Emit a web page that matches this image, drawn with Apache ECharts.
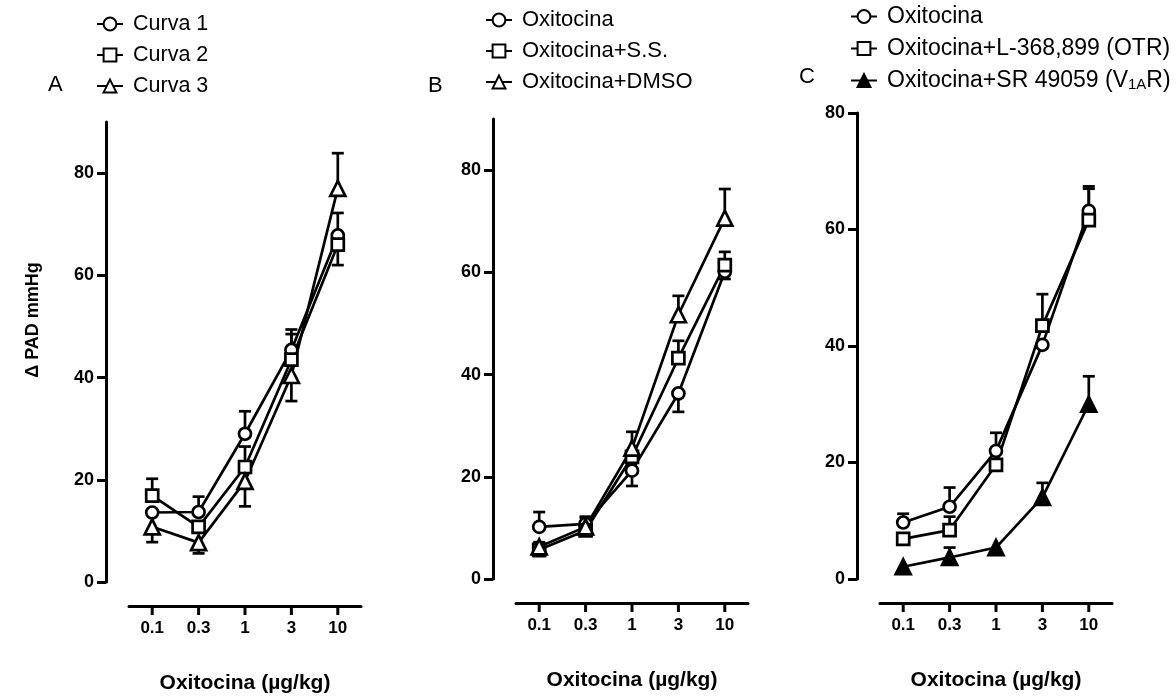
<!DOCTYPE html>
<html>
<head>
<meta charset="utf-8">
<script src="https://cdn.jsdelivr.net/npm/echarts@6/dist/echarts.min.js"></script>
<style>
  html, body { margin: 0; padding: 0; background: #ffffff; }
  #chart { width: 1176px; height: 696px; }
</style>
</head>
<body>
<div id="chart"></div>
<script>
// Doses (µg/kg) shown on every x axis, evenly spaced by position
const doses = ['0.1', '0.3', '1', '3', '10'];
const dosePos = [0, 1, 2, 3, 4];
const yTicks90 = [0, 20, 40, 60, 80];

// Panel A — three repeated oxytocin dose-response curves (mean, SEM above / below)
const curva1 = [13.6, 13.7, 29.0, 45.4, 67.8];
const curva1Up = [0, 3.0, 4.4, 4.0, 4.4];
const curva1Dn = [0, 0, 0, 0, 0];
const curva2 = [16.9, 10.8, 22.5, 43.5, 66.0];
const curva2Up = [3.3, 0, 4.0, 5.0, 0];
const curva2Dn = [0, 0, 0, 0, 4.0];
const curva3 = [10.8, 7.7, 19.7, 40.4, 77.0];
const curva3Up = [0, 0, 0, 0, 6.9];
const curva3Dn = [3.0, 2.1, 4.9, 5.0, 0];

// Panel B — oxytocin vs vehicles
const oxiB = [10.2, 10.8, 21.2, 36.3, 60.1];
const oxiBUp = [2.9, 1.4, 0, 0, 0];
const oxiBDn = [0, 0, 3.0, 3.6, 1.4];
const ssB = [5.7, 9.5, 23.9, 43.2, 61.4];
const ssBUp = [1.5, 0, 0, 3.4, 2.6];
const ssBDn = [1.2, 0, 0, 0, 0];
const dmsoB = [6.3, 10.2, 25.6, 51.7, 70.6];
const dmsoBUp = [0, 1.8, 3.2, 3.7, 5.7];
const dmsoBDn = [0, 0, 0, 0, 0];

// Panel C — oxytocin with receptor antagonists
const oxiC = [9.7, 12.4, 22.0, 40.2, 63.2];
const oxiCUp = [1.5, 3.3, 3.1, 0, 4.2];
const oxiCDn = [0, 0, 0, 0, 0];
const otrC = [6.9, 8.4, 19.6, 43.5, 61.6];
const otrCUp = [0, 2.3, 0, 5.4, 5.4];
const otrCDn = [0, 0, 0, 0, 0];
const v1aC = [2.1, 3.7, 5.4, 14.0, 30.0];
const v1aCUp = [0, 1.7, 0, 2.5, 4.8];
const v1aCDn = [0, 0, 0, 0, 0];

const namesA = ['Curva 1', 'Curva 2', 'Curva 3'];
const namesB = ['Oxitocina', 'Oxitocina+S.S.', 'Oxitocina+DMSO'];
const namesC = ['Oxitocina', 'Oxitocina+L-368,899 (OTR)', 'Oxitocina+SR 49059 (V1AR)'];

const FONT = '"Liberation Sans", Arial, sans-serif';
const INK = '#000000';
const LW = 2.7;

// Each panel: a data grid (with the y axis) and, below it, a thin strip grid
// whose top edge is the detached dose axis.
const panels = [
  { left: 129, top: 122, height: 460, max: 90, axisY: 606 },
  { left: 516, top: 119, height: 460, max: 90, axisY: 603 },
  { left: 880, top: 113, height: 466, max: 80, axisY: 603 }
];
const PANEL_W = 232;
const TICK_LEN = 9;

function doseAxis(grid, role) {
  // role: 'data' (hidden scale), 'line' (axis line on the strip top), 'labels' (dose labels under the strip)
  return {
    type: 'value', gridIndex: grid, min: -0.5, max: 4.5,
    position: role === 'line' ? 'top' : 'bottom',
    show: role !== 'data',
    axisLine: { show: role === 'line', onZero: false, lineStyle: { color: INK, width: 3 } },
    axisTick: { show: false },
    axisLabel: {
      show: role === 'labels', color: INK, fontFamily: FONT, fontWeight: 'bold', fontSize: 17, margin: 5,
      customValues: dosePos, formatter: v => doses[Math.round(v)]
    },
    splitLine: { show: false }
  };
}

function yAxisFor(grid, max) {
  return {
    type: 'value', gridIndex: grid, min: 0, max: max, offset: 23,
    axisLine: { show: true, onZero: false, lineStyle: { color: INK, width: 3 } },
    axisTick: { show: true, length: 9, customValues: yTicks90, lineStyle: { color: INK, width: 3 } },
    axisLabel: { color: INK, fontFamily: FONT, fontWeight: 'bold', fontSize: 18, margin: 12, customValues: yTicks90 },
    splitLine: { show: false }
  };
}

function stripYAxis(grid) {
  return { type: 'value', gridIndex: grid, min: 0, max: 1, show: false, splitLine: { show: false } };
}

function lineSeries(name, grid, values, symbol, fill) {
  return {
    type: 'line', name: name, xAxisIndex: grid, yAxisIndex: grid,
    data: values.map((v, i) => [dosePos[i], v]),
    symbol: symbol, symbolSize: symbol === 'triangle' ? 15 : 12, showAllSymbol: true,
    lineStyle: { color: INK, width: LW },
    itemStyle: { color: fill, borderColor: INK, borderWidth: LW },
    emphasis: { disabled: true }, z: 3, animation: false
  };
}

// SEM whiskers with caps, drawn under the symbols
function errorSeries(grid, values, up, dn) {
  return {
    type: 'custom', xAxisIndex: grid, yAxisIndex: grid, z: 2, silent: true, animation: false,
    data: values.map((v, i) => [dosePos[i], v, up[i], dn[i]]),
    encode: { x: 0, y: 1 },
    renderItem: function (params, api) {
      const i = api.value(0), v = api.value(1), u = api.value(2), d = api.value(3);
      const c = api.coord([i, v]);
      const cap = 6;
      const st = { stroke: INK, lineWidth: LW, fill: null };
      const kids = [];
      [[u, 1], [d, -1]].forEach(([e, s]) => {
        if (e > 0) {
          const t = api.coord([i, v + s * e]);
          kids.push({ type: 'line', shape: { x1: c[0], y1: c[1], x2: t[0], y2: t[1] }, style: st });
          kids.push({ type: 'line', shape: { x1: t[0] - cap, y1: t[1], x2: t[0] + cap, y2: t[1] }, style: st });
        }
      });
      return { type: 'group', children: kids };
    }
  };
}

function legendFor(left, top, names, size) {
  return {
    orient: 'vertical', left: left, top: top, itemGap: 9, itemWidth: 26, itemHeight: 16,
    data: names, selectedMode: false,
    textStyle: {
      color: INK, fontFamily: FONT, fontSize: size, padding: [0, 0, 0, 5],
      rich: { sub: { fontFamily: FONT, fontSize: 15, color: INK, padding: [9, 0, 0, 0] } }
    },
    formatter: function (n) {
      return n === namesC[2] ? 'Oxitocina+SR 49059 (V{sub|1A}R)' : n;
    }
  };
}

// grids 0-2: data; grids 3-5: dose-axis strips
const grids = panels.map(p => ({ left: p.left, top: p.top, width: PANEL_W, height: p.height }))
  .concat(panels.map(p => ({ left: p.left, top: p.axisY, width: PANEL_W, height: TICK_LEN })));
// xAxis 0-2: data scales; 3-5: axis lines; 6-8: dose labels
const xAxes = [0, 1, 2].map(g => doseAxis(g, 'data'))
  .concat([3, 4, 5].map(g => doseAxis(g, 'line')))
  .concat([3, 4, 5].map(g => doseAxis(g, 'labels')));
// yAxis 0-2: response scales; 3-5: strip helpers
const yAxes = panels.map((p, g) => yAxisFor(g, p.max)).concat([3, 4, 5].map(g => stripYAxis(g)));

const textGraphics = [
  { type: 'text', left: 48, top: 74, style: { text: 'A', fontFamily: FONT, fontSize: 22, fill: INK } },
  { type: 'text', left: 428, top: 75, style: { text: 'B', fontFamily: FONT, fontSize: 22, fill: INK } },
  { type: 'text', left: 799, top: 66, style: { text: 'C', fontFamily: FONT, fontSize: 22, fill: INK } },
  { type: 'text', x: 33, y: 320, rotation: Math.PI / 2,
    style: { text: 'Δ PAD mmHg', fontFamily: FONT, fontWeight: 'bold', fontSize: 18, fill: INK, align: 'center', verticalAlign: 'middle' } },
  { type: 'text', x: 245, y: 683, style: { text: 'Oxitocina (µg/kg)', fontFamily: FONT, fontWeight: 'bold', fontSize: 21, fill: INK, align: 'center', verticalAlign: 'middle' } },
  { type: 'text', x: 632, y: 680, style: { text: 'Oxitocina (µg/kg)', fontFamily: FONT, fontWeight: 'bold', fontSize: 21, fill: INK, align: 'center', verticalAlign: 'middle' } },
  { type: 'text', x: 996, y: 680, style: { text: 'Oxitocina (µg/kg)', fontFamily: FONT, fontWeight: 'bold', fontSize: 21, fill: INK, align: 'center', verticalAlign: 'middle' } }
];

const chart = echarts.init(document.getElementById('chart'), null, { renderer: 'canvas' });

chart.setOption({
  backgroundColor: '#ffffff',
  animation: false,
  grid: grids,
  xAxis: xAxes,
  yAxis: yAxes,
  legend: [legendFor(91, 8, namesA, 21.5), legendFor(480, 4, namesB, 22), legendFor(845, 0, namesC, 23)],
  series: [
    errorSeries(0, curva1, curva1Up, curva1Dn),
    errorSeries(0, curva2, curva2Up, curva2Dn),
    errorSeries(0, curva3, curva3Up, curva3Dn),
    lineSeries(namesA[0], 0, curva1, 'circle', '#ffffff'),
    lineSeries(namesA[1], 0, curva2, 'rect', '#ffffff'),
    lineSeries(namesA[2], 0, curva3, 'triangle', '#ffffff'),

    errorSeries(1, oxiB, oxiBUp, oxiBDn),
    errorSeries(1, ssB, ssBUp, ssBDn),
    errorSeries(1, dmsoB, dmsoBUp, dmsoBDn),
    lineSeries(namesB[0], 1, oxiB, 'circle', '#ffffff'),
    lineSeries(namesB[1], 1, ssB, 'rect', '#ffffff'),
    lineSeries(namesB[2], 1, dmsoB, 'triangle', '#ffffff'),

    errorSeries(2, oxiC, oxiCUp, oxiCDn),
    errorSeries(2, otrC, otrCUp, otrCDn),
    errorSeries(2, v1aC, v1aCUp, v1aCDn),
    lineSeries(namesC[0], 2, oxiC, 'circle', '#ffffff'),
    lineSeries(namesC[1], 2, otrC, 'rect', '#ffffff'),
    lineSeries(namesC[2], 2, v1aC, 'triangle', INK)
  ],
  graphic: textGraphics
});

// Dose tick marks under each detached x axis, placed through the dose scale
const tickGraphics = [];
panels.forEach((p, g) => {
  dosePos.forEach(pos => {
    const px = chart.convertToPixel({ xAxisIndex: g, yAxisIndex: g }, [pos, 0]);
    tickGraphics.push({
      type: 'line', z: 100,
      shape: { x1: px[0], y1: p.axisY, x2: px[0], y2: p.axisY + TICK_LEN },
      style: { stroke: INK, lineWidth: 3 }
    });
  });
});
chart.setOption({ graphic: textGraphics.concat(tickGraphics) });
</script>
</body>
</html>
